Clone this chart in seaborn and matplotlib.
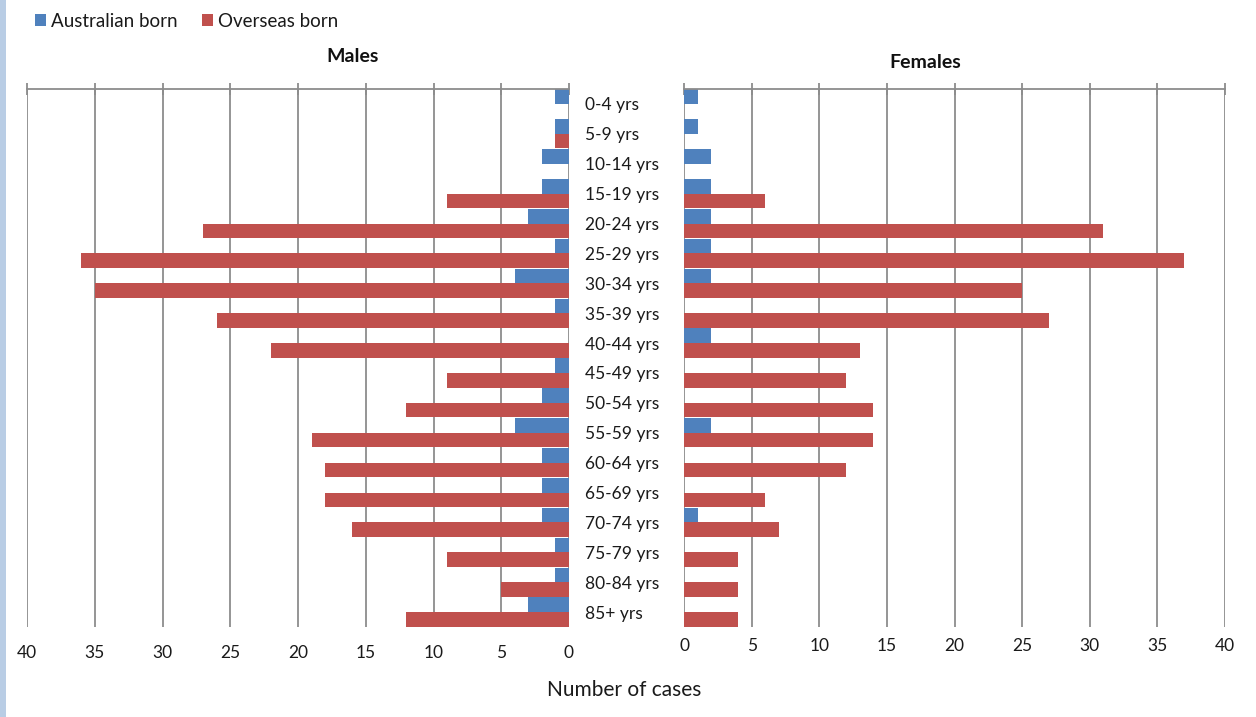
import matplotlib
matplotlib.use("Agg")
import matplotlib.pyplot as plt
from matplotlib.patches import Rectangle, Patch
import seaborn as sns
import pandas as pd

ages = ["0-4 yrs", "5-9 yrs", "10-14 yrs", "15-19 yrs", "20-24 yrs", "25-29 yrs",
        "30-34 yrs", "35-39 yrs", "40-44 yrs", "45-49 yrs", "50-54 yrs", "55-59 yrs",
        "60-64 yrs", "65-69 yrs", "70-74 yrs", "75-79 yrs", "80-84 yrs", "85+ yrs"]
male_aus = [1, 1, 2, 2, 3, 1, 4, 1, 0, 1, 2, 4, 2, 2, 2, 1, 1, 3]
male_over = [0, 1, 0, 9, 27, 36, 35, 26, 22, 9, 12, 19, 18, 18, 16, 9, 5, 12]
female_aus = [1, 1, 2, 2, 2, 2, 2, 0, 2, 0, 0, 2, 0, 0, 1, 0, 0, 0]
female_over = [0, 0, 0, 6, 31, 37, 25, 27, 13, 12, 14, 14, 12, 6, 7, 4, 4, 4]
series = ["Australian born", "Overseas born"]
xticks = [0, 5, 10, 15, 20, 25, 30, 35, 40]

BLUE = "#4f81bd"
RED = "#c0504d"
GRID = "#8c8c8c"
TXT = "#1a1a1a"

sns.set_theme(style="white")
plt.rcParams["font.family"] = ["Lato", "DejaVu Sans"]


def long_df(aus, over):
    return pd.DataFrame({
        "age": ages * 2,
        "cases": list(aus) + list(over),
        "born": [series[0]] * len(ages) + [series[1]] * len(ages),
    })


W, H = 1256, 717
fig = plt.figure(figsize=(W / 100, H / 100), dpi=100)
fig.patch.set_facecolor("white")
fig.add_artist(Rectangle((0, 0), 6 / W, 1, transform=fig.transFigure,
                         facecolor="#b9cde5", edgecolor="none"))

top_px, bot_px = 89, 627
ax_b = 1 - bot_px / H
ax_h = (bot_px - top_px) / H
axm = fig.add_axes([27 / W, ax_b, (569 - 27) / W, ax_h])
axf = fig.add_axes([684 / W, ax_b, (1225 - 684) / W, ax_h])

for ax, (aus, over), pad in ((axm, (male_aus, male_over), 8.5),
                             (axf, (female_aus, female_over), 3.5)):
    sns.barplot(data=long_df(aus, over), x="cases", y="age", hue="born", orient="h",
                order=ages, hue_order=series, palette=[BLUE, RED], saturation=1,
                width=0.98, dodge=True, linewidth=0, legend=False, ax=ax)
    ax.set_ylim(len(ages) - 0.5, -0.5)
    ax.set_xticks(xticks)
    ax.set_xticklabels([str(t) for t in xticks])
    ax.grid(False)
    for t in xticks:
        ax.axvline(t, color=GRID, lw=1.3, zorder=0)
    for s in ax.spines.values():
        s.set_visible(False)
    ax.spines["top"].set_visible(True)
    ax.spines["top"].set_color(GRID)
    ax.spines["top"].set_linewidth(1.3)
    ax.tick_params(axis="x", bottom=False, labelbottom=True, top=True, labeltop=False,
                   direction="inout", length=9, width=1.3, color=GRID,
                   labelsize=12.5, labelcolor=TXT, pad=pad)
    ax.set_xlabel("")
    ax.set_ylabel("")
    ax.set_facecolor("white")
    ax.set_axisbelow(True)

axm.set_xlim(40, 0)
axf.set_xlim(0, 40)
axm.tick_params(axis="y", left=False, right=False, labelleft=False, labelright=True,
                labelsize=12.5, labelcolor=TXT, pad=5.5)
axf.tick_params(axis="y", left=False, right=False, labelleft=False, labelright=False)

fig.text(353 / W, 1 - 56 / H, "Males", ha="center", va="center", fontsize=14,
         fontweight="bold", color="#111111")
fig.text(925 / W, 1 - 63 / H, "Females", ha="center", va="center", fontsize=14,
         fontweight="bold", color="#111111")
fig.text(624 / W, 1 - 690 / H, "Number of cases", ha="center", va="center",
         fontsize=15, color=TXT)

handles = [Patch(facecolor=BLUE, edgecolor="none"), Patch(facecolor=RED, edgecolor="none")]
fig.legend(handles, series, loc="upper left", bbox_to_anchor=(31 / W, 1 - 9 / H),
           ncol=2, frameon=False, fontsize=13.5, handlelength=0.6, handleheight=0.6,
           handletextpad=0.25, columnspacing=1.3, borderaxespad=0, borderpad=0.2,
           labelcolor=TXT)

fig.savefig("out.png", dpi=100, facecolor="white")
